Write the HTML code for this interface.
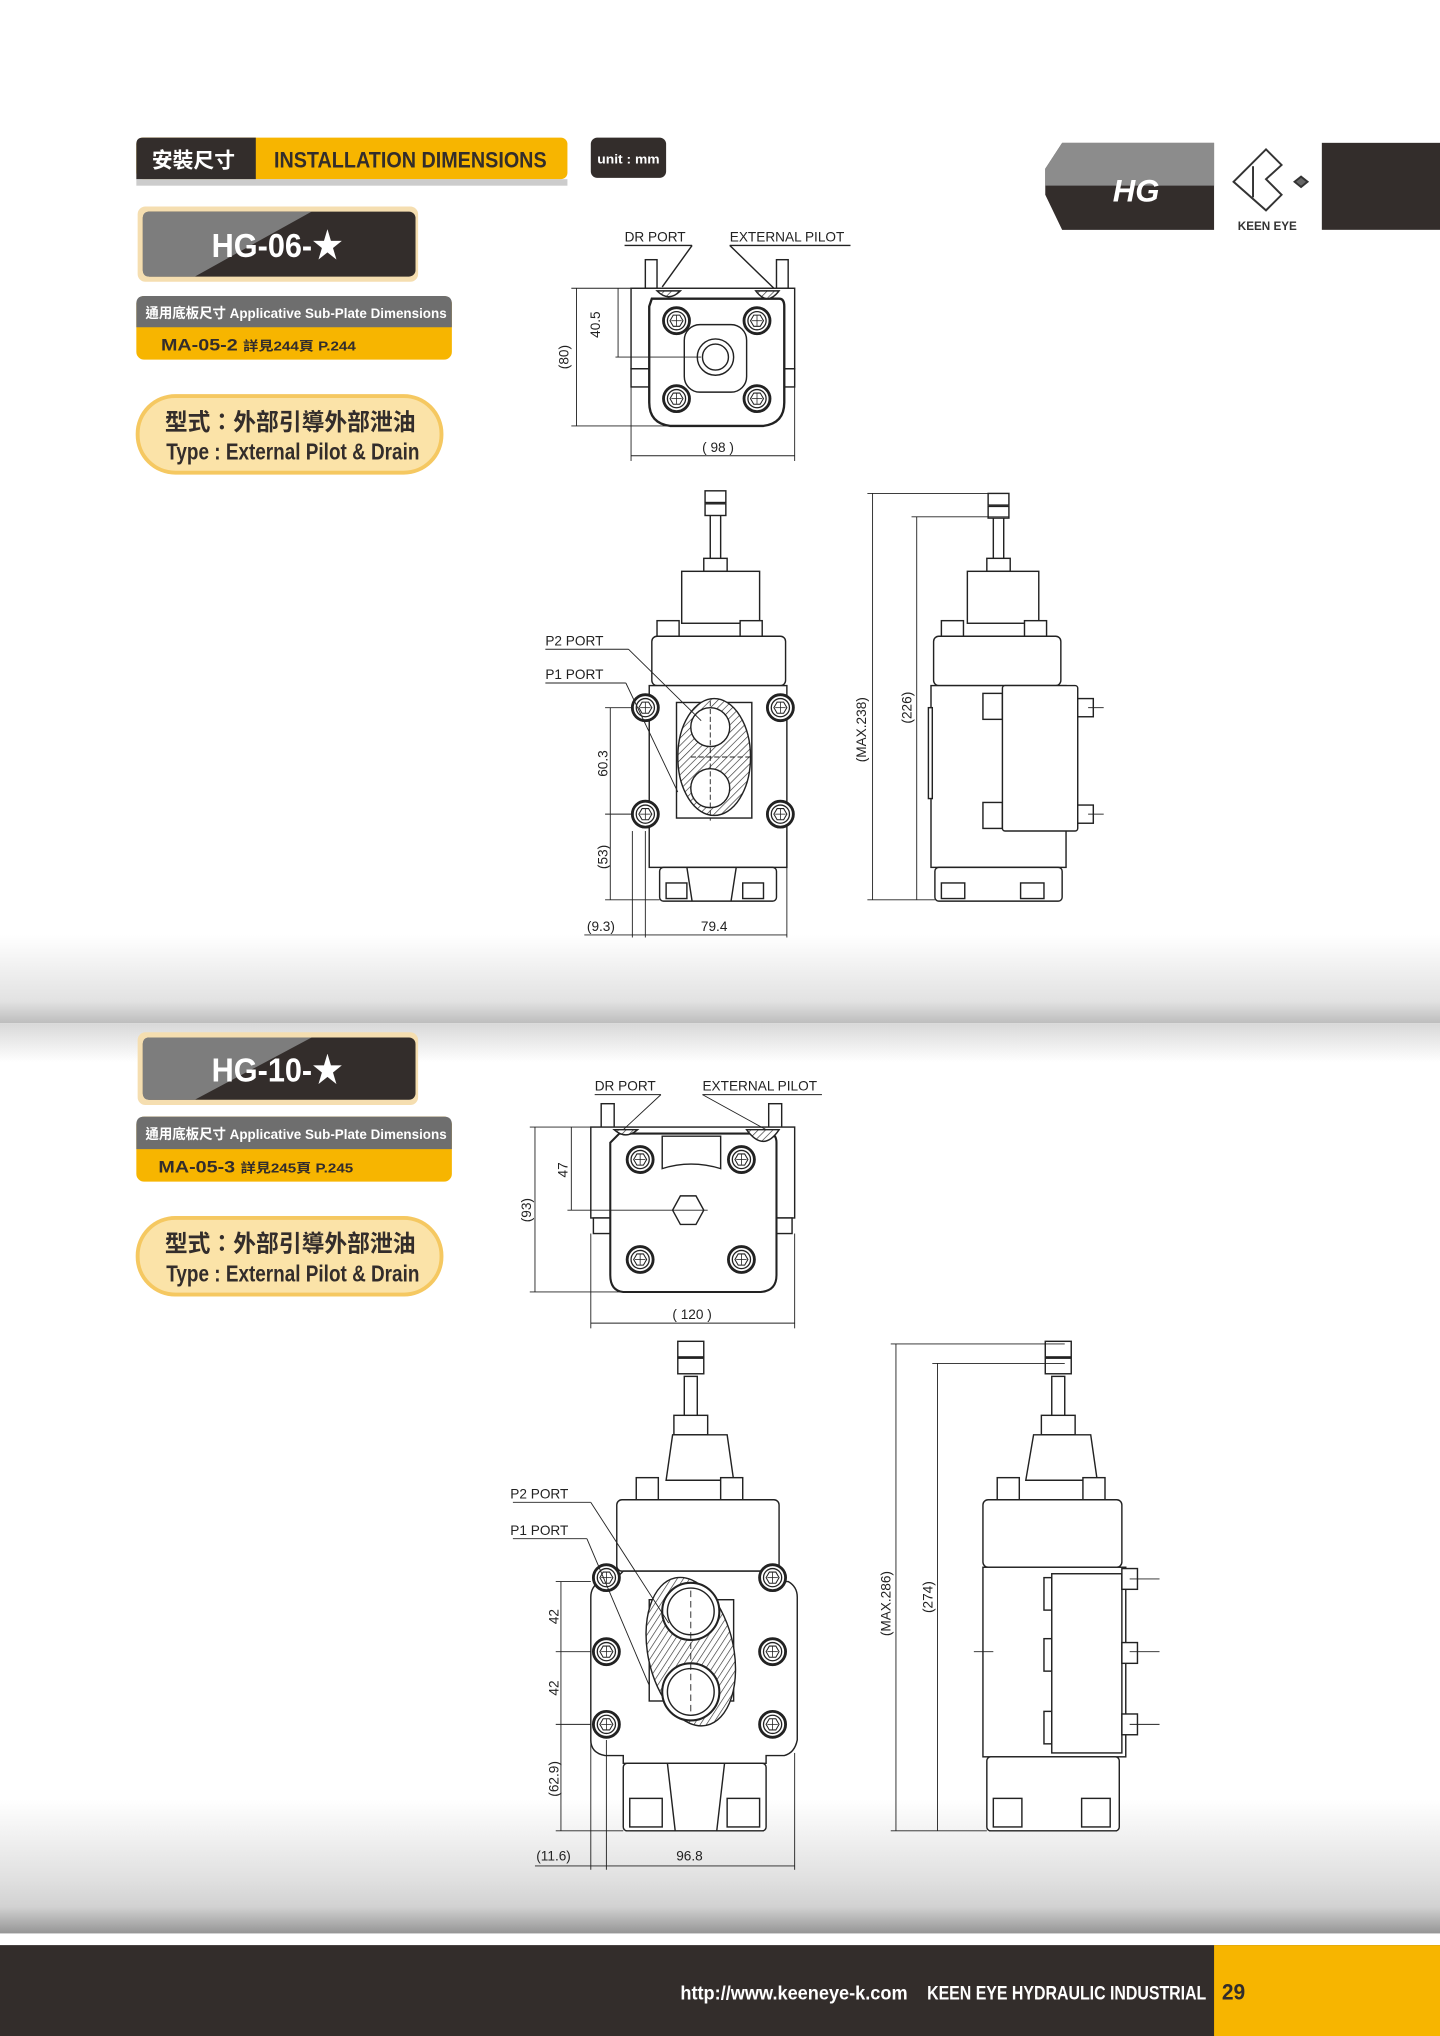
<!DOCTYPE html>
<html><head><meta charset="utf-8">
<style>
html,body{margin:0;padding:0;background:#fff;}
svg{display:block;}
text{font-family:"Liberation Sans","Noto Sans CJK TC",sans-serif;}
</style></head>
<body>
<svg width="1440" height="2036" viewBox="0 0 1109 1568" xmlns="http://www.w3.org/2000/svg">
<defs>
<linearGradient id="band1" x1="0" y1="0" x2="0" y2="1">
<stop offset="0" stop-color="#fff"/><stop offset="0.75" stop-color="#e2e2e2"/><stop offset="1" stop-color="#bdbdbd"/>
</linearGradient>
<linearGradient id="band1b" x1="0" y1="0" x2="0" y2="1">
<stop offset="0" stop-color="#d8d8d8"/><stop offset="1" stop-color="#fff"/>
</linearGradient>
<linearGradient id="band2" x1="0" y1="0" x2="0" y2="1">
<stop offset="0" stop-color="#fff"/><stop offset="0.6" stop-color="#e0e0e0"/><stop offset="0.8" stop-color="#d2d2d2"/><stop offset="1" stop-color="#959595"/>
</linearGradient>
<pattern id="hatch" width="4" height="4" patternUnits="userSpaceOnUse" patternTransform="rotate(45)">
<rect width="4" height="4" fill="#fff"/><line x1="0" y1="0" x2="0" y2="4" stroke="#333" stroke-width="1"/>
</pattern>
<g id="bolt">
<circle r="10" fill="#fff" stroke="#222" stroke-width="2.2"/>
<circle r="7" fill="none" stroke="#222" stroke-width="1"/>
<polygon points="5,0 2.5,4.3 -2.5,4.3 -5,0 -2.5,-4.3 2.5,-4.3" fill="none" stroke="#222" stroke-width="0.8"/>
<line x1="-4" y1="0" x2="4" y2="0" stroke="#222" stroke-width="0.6"/><line x1="0" y1="-4" x2="0" y2="4" stroke="#222" stroke-width="0.6"/>
</g>
</defs>

<!-- background bands -->
<rect x="0" y="720" width="1109" height="68" fill="url(#band1)"/>
<rect x="0" y="788" width="1109" height="30" fill="url(#band1b)"/>
<rect x="0" y="1386" width="1109" height="103" fill="url(#band2)"/>
<rect x="0" y="1498" width="1109" height="70" fill="#332d2b"/>
<rect x="935" y="1498" width="174" height="70" fill="#f7b500"/>
<text x="524" y="1540" font-size="15" font-weight="bold" fill="#fff" textLength="175" lengthAdjust="spacingAndGlyphs">http://www.keeneye-k.com</text>
<text x="714" y="1540" font-size="15" font-weight="bold" fill="#fff" textLength="215" lengthAdjust="spacingAndGlyphs">KEEN EYE HYDRAULIC INDUSTRIAL</text>
<text x="941" y="1540" font-size="17" font-weight="bold" fill="#332d2b" textLength="18" lengthAdjust="spacingAndGlyphs">29</text>

<!-- header -->
<rect x="105" y="106" width="332" height="32" rx="5" fill="#f7b500"/>
<path d="M110,106 H197 V138 H105 V111 Q105,106 110,106Z" fill="#332d2b"/>
<rect x="105" y="138" width="332" height="5" fill="#ccc"/>
<text x="117" y="129" font-size="16" font-weight="bold" fill="#fff">安裝尺寸</text>
<text x="211" y="129" font-size="17" font-weight="bold" fill="#332d2b" textLength="210" lengthAdjust="spacingAndGlyphs">INSTALLATION DIMENSIONS</text>
<rect x="455" y="106" width="58" height="31" rx="5" fill="#332d2b"/>
<text x="460" y="126" font-size="10" font-weight="bold" fill="#fff" textLength="48" lengthAdjust="spacingAndGlyphs">unit : mm</text>

<!-- top right -->
<path d="M818,110 H935 V177 H818 L805,150 V130Z" fill="#332d2b"/>
<path d="M818,110 H935 V143 H805 V130Z" fill="#8c8c8c"/>
<text x="875" y="155" font-size="24" font-weight="bold" font-style="italic" fill="#fff" text-anchor="middle">HG</text>
<g transform="translate(975,140)" fill="none" stroke="#333" stroke-width="1.5">
<polygon points="-25,0 0,-25 12,-13 0,-2 12,10 0,22"/>
<polyline points="-10,-12 -10,12"/>
<polygon points="22,0 27,-4 32,0 27,4" fill="#666"/>
</g>
<text x="976" y="177" font-size="9" font-weight="bold" fill="#333" text-anchor="middle">KEEN EYE</text>
<rect x="1018" y="110" width="91" height="67" fill="#332d2b"/>

<!-- model box HG-06 -->
<rect x="106" y="159" width="216" height="58" rx="6" fill="#f5deb0"/>
<rect x="110" y="163" width="210" height="50" rx="5" fill="#332d2b"/>
<path d="M115,163 H240 L150,213 H115 Q110,213 110,208 V168 Q110,163 115,163Z" fill="#7d7d7d"/>
<text x="163" y="198" font-size="26" font-weight="bold" fill="#fff" textLength="101" lengthAdjust="spacingAndGlyphs">HG-06-★</text>
<rect x="105" y="228" width="243" height="49" rx="6" fill="#f7b500"/>
<path d="M111,228 H342 Q348,228 348,234 V252 H105 V234 Q105,228 111,228Z" fill="#6e6e6e"/>
<text x="112" y="245" font-size="11" font-weight="bold" fill="#fff" textLength="232" lengthAdjust="spacingAndGlyphs">通用底板尺寸 Applicative Sub-Plate Dimensions</text>
<text x="124" y="270" font-size="13" font-weight="bold" fill="#332d2b" textLength="150" lengthAdjust="spacingAndGlyphs">MA-05-2 <tspan font-size="10">詳見244頁  P.244</tspan></text>
<rect x="106" y="305" width="234" height="59" rx="29" fill="#fbe3a8" stroke="#f5c861" stroke-width="3"/>
<text x="127" y="331" font-size="18" font-weight="bold" fill="#332d2b" textLength="193" lengthAdjust="spacingAndGlyphs">型式：外部引導外部泄油</text>
<text x="128" y="354" font-size="18" font-weight="bold" fill="#332d2b" textLength="195" lengthAdjust="spacingAndGlyphs">Type : External Pilot &amp; Drain</text>

<!-- model box HG-10 -->
<rect x="106" y="795" width="216" height="56" rx="6" fill="#f5deb0"/>
<rect x="110" y="799" width="210" height="48" rx="5" fill="#332d2b"/>
<path d="M115,799 H240 L150,847 H115 Q110,847 110,842 V804 Q110,799 115,799Z" fill="#7d7d7d"/>
<text x="163" y="833" font-size="26" font-weight="bold" fill="#fff" textLength="101" lengthAdjust="spacingAndGlyphs">HG-10-★</text>
<rect x="105" y="860" width="243" height="50" rx="6" fill="#f7b500"/>
<path d="M111,860 H342 Q348,860 348,866 V885 H105 V866 Q105,860 111,860Z" fill="#6e6e6e"/>
<text x="112" y="877" font-size="11" font-weight="bold" fill="#fff" textLength="232" lengthAdjust="spacingAndGlyphs">通用底板尺寸 Applicative Sub-Plate Dimensions</text>
<text x="122" y="903" font-size="13" font-weight="bold" fill="#332d2b" textLength="150" lengthAdjust="spacingAndGlyphs">MA-05-3 <tspan font-size="10">詳見245頁  P.245</tspan></text>
<rect x="106" y="938" width="234" height="59" rx="29" fill="#fbe3a8" stroke="#f5c861" stroke-width="3"/>
<text x="127" y="964" font-size="18" font-weight="bold" fill="#332d2b" textLength="193" lengthAdjust="spacingAndGlyphs">型式：外部引導外部泄油</text>
<text x="128" y="987" font-size="18" font-weight="bold" fill="#332d2b" textLength="195" lengthAdjust="spacingAndGlyphs">Type : External Pilot &amp; Drain</text>

<g fill="none" stroke="#222" stroke-width="1.1">
<!-- ===== HG-06 top view ===== -->
<rect x="497" y="200" width="9" height="22" fill="#fff"/>
<rect x="598" y="200" width="9" height="22" fill="#fff"/>
<rect x="486" y="222" width="126" height="62" fill="#fff"/>
<rect x="486" y="284" width="16" height="14"/><rect x="596" y="284" width="16" height="14"/>
<path d="M502,230 H600 Q604,230 604,236 V310 Q604,326 588,328 H516 Q500,326 500,310 V236Z" fill="#fff" stroke-width="1.8"/>
<rect x="527" y="250" width="48" height="52" rx="12"/>
<circle cx="551" cy="275" r="14"/><circle cx="551" cy="275" r="10"/>
<path d="M506,224 Q515,233 524,224Z" fill="url(#hatch)"/><path d="M582,224 Q591,236 600,224Z" fill="url(#hatch)"/>
<line x1="481" y1="189" x2="533" y2="189"/><line x1="533" y1="189" x2="510" y2="221"/>
<line x1="562" y1="189" x2="655" y2="189"/><line x1="562" y1="189" x2="596" y2="222"/>
<line x1="440" y1="222" x2="486" y2="222" stroke-width="0.7"/><line x1="440" y1="328" x2="520" y2="328" stroke-width="0.7"/>
<line x1="444" y1="222" x2="444" y2="328" stroke-width="0.7"/>
<line x1="476" y1="222" x2="476" y2="275" stroke-width="0.7"/><line x1="474" y1="275" x2="540" y2="275" stroke-width="0.7"/>
<line x1="486" y1="298" x2="486" y2="355" stroke-width="0.7"/><line x1="612" y1="298" x2="612" y2="355" stroke-width="0.7"/>
<line x1="486" y1="351" x2="612" y2="351" stroke-width="0.7"/>
</g>
<use href="#bolt" x="521" y="247"/><use href="#bolt" x="583" y="247"/><use href="#bolt" x="521" y="307"/><use href="#bolt" x="583" y="307"/>
<g font-size="10.5" fill="#222">
<text x="481" y="186">DR PORT</text><text x="562" y="186">EXTERNAL PILOT</text>
<text transform="translate(462,250) rotate(-90)" text-anchor="middle">40.5</text>
<text transform="translate(438,275) rotate(-90)" text-anchor="middle">(80)</text>
<text x="553" y="348" text-anchor="middle">( 98 )</text>
</g>

<!-- ===== HG-06 front view ===== -->
<g fill="#fff" stroke="#222" stroke-width="1.1">
<rect x="547" y="395" width="8" height="45"/>
<rect x="543" y="378" width="16" height="9"/><rect x="543" y="388" width="16" height="9"/>
<rect x="542" y="430" width="18" height="10"/>
<rect x="525" y="440" width="60" height="40"/>
<rect x="506" y="478" width="17" height="14"/><rect x="570" y="478" width="17" height="14"/>
<rect x="502" y="490" width="103" height="38" rx="4"/>
<rect x="500" y="528" width="106" height="140"/>
<rect x="521" y="541" width="58" height="89"/>
<ellipse cx="550" cy="583" rx="28" ry="45" fill="url(#hatch)"/>
<circle cx="547" cy="560" r="15"/><circle cx="547" cy="607" r="15"/>
<rect x="508" y="668" width="90" height="26" rx="3"/>
<rect x="513" y="680" width="16" height="12"/><rect x="572" y="680" width="16" height="12"/>
<path d="M529,668 L533,694 M567,668 L563,694"/>
</g>
<use href="#bolt" x="497" y="545"/><use href="#bolt" x="601" y="545"/><use href="#bolt" x="497" y="627"/><use href="#bolt" x="601" y="627"/>
<g fill="none" stroke="#222" stroke-width="0.7">
<line x1="420" y1="500" x2="484" y2="500"/><line x1="484" y1="500" x2="540" y2="555"/>
<line x1="420" y1="526" x2="482" y2="526"/><line x1="482" y1="526" x2="522" y2="610"/>
<line x1="466" y1="545" x2="488" y2="545"/><line x1="470" y1="545" x2="470" y2="693"/>
<line x1="466" y1="627" x2="488" y2="627"/><line x1="466" y1="693" x2="508" y2="693"/>
<line x1="487" y1="640" x2="487" y2="722"/><line x1="497" y1="640" x2="497" y2="722"/><line x1="606" y1="640" x2="606" y2="722"/>
<line x1="450" y1="720" x2="606" y2="720"/>
<line x1="547" y1="540" x2="547" y2="632" stroke-dasharray="4,2"/><line x1="532" y1="583" x2="578" y2="583" stroke-dasharray="4,2"/>
</g>
<g font-size="10.5" fill="#222">
<text x="420" y="497">P2 PORT</text><text x="420" y="523">P1 PORT</text>
<text transform="translate(468,588) rotate(-90)" text-anchor="middle">60.3</text>
<text transform="translate(468,660) rotate(-90)" text-anchor="middle">(53)</text>
<text x="452" y="717">(9.3)</text><text x="550" y="717" text-anchor="middle">79.4</text>
</g>

<!-- ===== HG-06 side view ===== -->
<g fill="#fff" stroke="#222" stroke-width="1.1">
<rect x="765" y="395" width="8" height="45"/>
<rect x="761" y="380" width="16" height="9"/><rect x="761" y="390" width="16" height="9"/>
<rect x="760" y="430" width="18" height="10"/>
<rect x="745" y="440" width="55" height="40"/>
<rect x="725" y="478" width="17" height="14"/><rect x="789" y="478" width="17" height="14"/>
<rect x="719" y="490" width="98" height="38" rx="4"/>
<rect x="717" y="528" width="104" height="140"/>
<rect x="757" y="534" width="15" height="20"/><rect x="757" y="618" width="15" height="20"/>
<rect x="772" y="528" width="58" height="112" rx="2"/>
<rect x="830" y="538" width="12" height="14"/><rect x="830" y="620" width="12" height="14"/>
<rect x="715" y="545" width="3" height="70"/>
<rect x="720" y="668" width="98" height="26" rx="3"/>
<rect x="725" y="680" width="18" height="12"/><rect x="786" y="680" width="18" height="12"/>
</g>
<g fill="none" stroke="#222" stroke-width="0.7">
<line x1="668" y1="380" x2="777" y2="380"/><line x1="672" y1="380" x2="672" y2="693"/>
<line x1="702" y1="398" x2="777" y2="398"/><line x1="706" y1="398" x2="706" y2="693"/>
<line x1="668" y1="693" x2="720" y2="693"/>
<line x1="838" y1="545" x2="850" y2="545"/><line x1="838" y1="627" x2="850" y2="627"/>
</g>
<g font-size="10.5" fill="#222">
<text transform="translate(667,562) rotate(-90)" text-anchor="middle">(MAX.238)</text>
<text transform="translate(702,545) rotate(-90)" text-anchor="middle">(226)</text>
</g>

<!-- ===== HG-10 top view ===== -->
<g fill="#fff" stroke="#222" stroke-width="1.1">
<rect x="463" y="850" width="10" height="20"/><rect x="592" y="850" width="10" height="20"/>
<rect x="455" y="868" width="157" height="70"/>
<rect x="457" y="938" width="16" height="12"/><rect x="594" y="938" width="16" height="12"/>
<path d="M477,873 H592 Q598,873 598,880 V982 Q598,994 586,995 H480 Q470,994 470,982 V880Z" stroke-width="1.6"/>
<path d="M510,875 H555 V900 Q532,893 510,900Z"/>
<polygon points="542,932 536,943 524,943 518,932 524,921 536,921"/>
<path d="M473,870 Q482,878 491,870Z" fill="url(#hatch)"/><path d="M575,870 Q588,888 600,870Z" fill="url(#hatch)"/>
</g>
<use href="#bolt" x="493" y="893"/><use href="#bolt" x="571" y="893"/><use href="#bolt" x="493" y="970"/><use href="#bolt" x="571" y="970"/>
<g fill="none" stroke="#222" stroke-width="0.7">
<line x1="458" y1="843" x2="509" y2="843"/><line x1="509" y1="843" x2="480" y2="870"/>
<line x1="541" y1="843" x2="633" y2="843"/><line x1="541" y1="843" x2="590" y2="870"/>
<line x1="408" y1="868" x2="455" y2="868"/><line x1="408" y1="995" x2="480" y2="995"/>
<line x1="412" y1="868" x2="412" y2="995"/>
<line x1="440" y1="868" x2="440" y2="932"/><line x1="437" y1="932" x2="545" y2="932"/>
<line x1="455" y1="950" x2="455" y2="1023"/><line x1="612" y1="950" x2="612" y2="1023"/>
<line x1="455" y1="1019" x2="612" y2="1019"/>
</g>
<g font-size="10.5" fill="#222">
<text x="458" y="840">DR PORT</text><text x="541" y="840">EXTERNAL PILOT</text>
<text transform="translate(437,901) rotate(-90)" text-anchor="middle">47</text>
<text transform="translate(409,932) rotate(-90)" text-anchor="middle">(93)</text>
<text x="533" y="1016" text-anchor="middle">( 120 )</text>
</g>

<!-- ===== HG-10 front view ===== -->
<g fill="#fff" stroke="#222" stroke-width="1.1">
<rect x="527" y="1060" width="10" height="32"/>
<rect x="522" y="1033" width="20" height="12"/><rect x="522" y="1046" width="20" height="12"/>
<rect x="519" y="1090" width="26" height="15"/>
<path d="M518,1105 H560 L565,1140 H513Z"/>
<rect x="490" y="1138" width="17" height="17"/><rect x="555" y="1138" width="17" height="17"/>
<rect x="475" y="1155" width="125" height="55" rx="4"/>
<path d="M480,1210 H590 L598,1218 H607 Q614,1222 614,1230 V1340 Q612,1350 604,1352 H590 V1358 H480 V1352 H466 Q455,1350 455,1340 V1230 Q455,1222 462,1218 H472Z"/>
<rect x="500" y="1232" width="65" height="78"/>
<ellipse cx="532" cy="1272" rx="33" ry="58" transform="rotate(-12 532 1272)" fill="url(#hatch)"/>
<circle cx="532" cy="1241" r="22" stroke-width="1.6"/><circle cx="532" cy="1241" r="18"/>
<circle cx="532" cy="1303" r="22" stroke-width="1.6"/><circle cx="532" cy="1303" r="18"/>
<rect x="480" y="1358" width="110" height="52" rx="3"/>
<rect x="485" y="1385" width="25" height="22"/><rect x="560" y="1385" width="25" height="22"/>
<path d="M514,1358 L520,1410 M558,1358 L552,1410"/>
</g>
<use href="#bolt" x="467" y="1215"/><use href="#bolt" x="595" y="1215"/><use href="#bolt" x="467" y="1272"/><use href="#bolt" x="595" y="1272"/><use href="#bolt" x="467" y="1328"/><use href="#bolt" x="595" y="1328"/>
<g fill="none" stroke="#222" stroke-width="0.7">
<line x1="395" y1="1157" x2="455" y2="1157"/><line x1="455" y1="1157" x2="515" y2="1250"/>
<line x1="395" y1="1185" x2="452" y2="1185"/><line x1="452" y1="1185" x2="500" y2="1298"/>
<line x1="428" y1="1218" x2="455" y2="1218"/><line x1="428" y1="1272" x2="455" y2="1272"/><line x1="428" y1="1328" x2="455" y2="1328"/>
<line x1="432" y1="1218" x2="432" y2="1410"/><line x1="428" y1="1410" x2="480" y2="1410"/>
<line x1="455" y1="1340" x2="455" y2="1440"/><line x1="467" y1="1340" x2="467" y2="1440"/><line x1="612" y1="1350" x2="612" y2="1440"/>
<line x1="412" y1="1437" x2="612" y2="1437"/>
<line x1="532" y1="1225" x2="532" y2="1320" stroke-dasharray="5,3"/>
</g>
<g font-size="10.5" fill="#222">
<text x="393" y="1154">P2 PORT</text><text x="393" y="1182">P1 PORT</text>
<text transform="translate(430,1245) rotate(-90)" text-anchor="middle">42</text>
<text transform="translate(430,1300) rotate(-90)" text-anchor="middle">42</text>
<text transform="translate(430,1370) rotate(-90)" text-anchor="middle">(62.9)</text>
<text x="413" y="1433">(11.6)</text><text x="531" y="1433" text-anchor="middle">96.8</text>
</g>

<!-- ===== HG-10 side view ===== -->
<g fill="#fff" stroke="#222" stroke-width="1.1">
<rect x="810" y="1060" width="10" height="32"/>
<rect x="805" y="1033" width="20" height="12"/><rect x="805" y="1046" width="20" height="12"/>
<rect x="802" y="1090" width="26" height="15"/>
<path d="M796,1105 H840 L845,1140 H790Z"/>
<rect x="768" y="1138" width="17" height="17"/><rect x="834" y="1138" width="17" height="17"/>
<rect x="757" y="1155" width="107" height="52" rx="4"/>
<rect x="757" y="1207" width="110" height="146"/>
<rect x="804" y="1215" width="6" height="25"/><rect x="804" y="1262" width="6" height="25"/><rect x="804" y="1318" width="6" height="25"/>
<rect x="810" y="1212" width="54" height="138"/>
<rect x="864" y="1208" width="12" height="16"/><rect x="864" y="1265" width="12" height="16"/><rect x="864" y="1320" width="12" height="16"/>
<rect x="760" y="1353" width="102" height="57" rx="3"/>
<rect x="765" y="1385" width="22" height="22"/><rect x="833" y="1385" width="22" height="22"/>
</g>
<g fill="none" stroke="#222" stroke-width="0.7">
<line x1="686" y1="1035" x2="820" y2="1035"/><line x1="690" y1="1035" x2="690" y2="1410"/>
<line x1="718" y1="1050" x2="820" y2="1050"/><line x1="722" y1="1050" x2="722" y2="1410"/>
<line x1="686" y1="1410" x2="760" y2="1410"/>
<line x1="870" y1="1216" x2="893" y2="1216"/><line x1="870" y1="1272" x2="893" y2="1272"/><line x1="870" y1="1328" x2="893" y2="1328"/>
<line x1="750" y1="1272" x2="765" y2="1272"/>
</g>
<g font-size="10.5" fill="#222">
<text transform="translate(686,1235) rotate(-90)" text-anchor="middle">(MAX.286)</text>
<text transform="translate(718,1230) rotate(-90)" text-anchor="middle">(274)</text>
</g>
</svg>
</body></html>
